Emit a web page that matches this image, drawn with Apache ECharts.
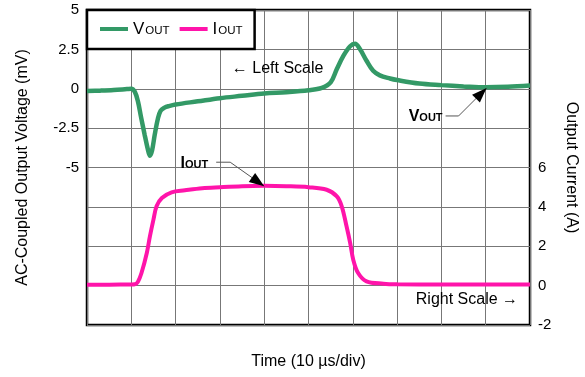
<!DOCTYPE html>
<html>
<head>
<meta charset="utf-8">
<script src="https://cdn.jsdelivr.net/npm/echarts@6/dist/echarts.min.js"></script>
<style>html,body{margin:0;padding:0;background:#fff;}#c{width:585px;height:377px;}</style>
</head>
<body>
<div id="c"></div>
<script>
// Time in µs (10 µs per division)
var vTime = [0, 3, 6, 9, 10, 10.8, 11.5, 12.2, 13, 13.7, 14.2, 14.7, 15.3, 16, 16.6, 17.5, 18.5, 20, 25, 30, 35, 40, 45, 50, 53, 55, 56.4, 57.9, 59.4, 60.5, 61.6, 63.1, 64.6, 66.1, 68.4, 70, 75, 80, 85, 90, 95, 100];
var vOut  = [-0.15, -0.12, -0.08, -0.02, 0.0, -0.2, -0.8, -1.8, -2.9, -3.8, -4.25, -3.9, -2.9, -1.9, -1.4, -1.2, -1.1, -1.0, -0.8, -0.6, -0.45, -0.3, -0.22, -0.1, 0.05, 0.4, 1.25, 2.1, 2.7, 2.85, 2.52, 1.78, 1.14, 0.85, 0.65, 0.55, 0.33, 0.23, 0.15, 0.09, 0.12, 0.2];
var iTime = [0, 5, 10, 10.8, 11.5, 12.3, 13.5, 14.2, 15, 15.7, 16.9, 19.1, 22.1, 26, 30, 35, 40, 45, 50, 54.1, 56.4, 57.5, 58.6, 59.4, 60.1, 61.2, 63.1, 66.9, 70, 80, 90, 100];
var iOut  = [0.05, 0.05, 0.06, 0.07, 0.2, 0.64, 1.66, 2.5, 3.35, 4.03, 4.45, 4.74, 4.84, 4.95, 5.0, 5.05, 5.07, 5.05, 5.0, 4.87, 4.53, 4.03, 3.0, 2.17, 1.32, 0.64, 0.22, 0.1, 0.07, 0.06, 0.06, 0.06];

var xTicks = {min: 0, max: 100, interval: 10};
var leftTicks = {min: -15, max: 5, interval: 2.5, labelMin: -5};
var rightTicks = {min: -2, max: 14, interval: 2, labelMax: 6};

var FONT = "'Liberation Sans', Arial, sans-serif";
var GREEN = '#339966';
var PINK = '#ff14aa';

function zip(a, b) { return a.map(function (x, i) { return [x, b[i]]; }); }

var chart = echarts.init(document.getElementById('c'));
chart.setOption({
  animation: false,
  backgroundColor: '#fff',
  textStyle: {fontFamily: FONT},
  grid: {left: 87, right: 55, top: 10, bottom: 52, outerBoundsMode: 'none', containLabel: false,
    show: true, borderColor: '#000', borderWidth: 2.5, backgroundColor: 'transparent'},
  legend: {
    left: 87, top: 10, orient: 'horizontal',
    backgroundColor: '#fff', borderColor: '#000', borderWidth: 2.5,
    padding: [11, 12, 11, 13], itemGap: 10, itemWidth: 28, itemHeight: 4,
    icon: 'rect',
    data: ['VOUT', 'IOUT'],
    formatter: function (n) { return n === 'VOUT' ? '{b|V}{s|OUT}' : '{b|I}{s|OUT}'; },
    textStyle: {
      color: '#000', fontFamily: FONT,
      rich: {
        b: {fontSize: 17, fontFamily: FONT, color: '#000', verticalAlign: 'bottom', lineHeight: 18},
        s: {fontSize: 11.5, fontFamily: FONT, color: '#000', verticalAlign: 'bottom', lineHeight: 18, padding: [0, 0, 1, 1]}
      }
    }
  },
  xAxis: {
    type: 'value', min: xTicks.min, max: xTicks.max, interval: xTicks.interval,
    name: 'Time (10 µs/div)', nameLocation: 'middle', nameGap: 29,
    nameTextStyle: {fontSize: 16, color: '#000', fontFamily: FONT},
    axisLine: {show: false}, axisTick: {show: false}, axisLabel: {show: false},
    splitLine: {show: true, lineStyle: {color: '#777', width: 1}}
  },
  yAxis: [{
    type: 'value', position: 'left', min: leftTicks.min, max: leftTicks.max, interval: leftTicks.interval,
    name: 'AC-Coupled Output Voltage (mV)', nameLocation: 'middle', nameGap: 56,
    nameTextStyle: {fontSize: 16, color: '#000', fontFamily: FONT},
    axisLine: {show: false}, axisTick: {show: false},
    axisLabel: {fontSize: 15, color: '#000', margin: 8, fontFamily: FONT,
      formatter: function (v) { return v >= leftTicks.labelMin ? String(v) : ''; }},
    splitLine: {show: true, lineStyle: {color: '#777', width: 1}}
  }, {
    type: 'value', position: 'right', min: rightTicks.min, max: rightTicks.max, interval: rightTicks.interval,
    name: 'Output Current (A)', nameLocation: 'middle', nameGap: 33, nameRotate: -90,
    nameTextStyle: {fontSize: 16, color: '#000', fontFamily: FONT},
    axisLine: {show: false}, axisTick: {show: false},
    axisLabel: {fontSize: 15, color: '#000', margin: 8, fontFamily: FONT,
      formatter: function (v) { return v <= rightTicks.labelMax ? String(v) : ''; }},
    splitLine: {show: false}
  }],
  series: [{
    name: 'VOUT', type: 'line', yAxisIndex: 0, data: zip(vTime, vOut),
    showSymbol: false, smooth: 0.35,
    lineStyle: {color: GREEN, width: 4.5}, itemStyle: {color: GREEN}, z: 3
  }, {
    name: 'IOUT', type: 'line', yAxisIndex: 1, data: zip(iTime, iOut),
    showSymbol: false, smooth: 0.35,
    lineStyle: {color: PINK, width: 4}, itemStyle: {color: PINK}, z: 3
  }]
});

function px(axis, x, y) {
  return chart.convertToPixel(axis === 0 ? {xAxisIndex: 0, yAxisIndex: 0} : {xAxisIndex: 0, yAxisIndex: 1}, [x, y]);
}
function arrowHead(tip, from, len, half) {
  var dx = tip[0] - from[0], dy = tip[1] - from[1];
  var L = Math.sqrt(dx * dx + dy * dy); dx /= L; dy /= L;
  var bx = tip[0] - dx * len, by = tip[1] - dy * len;
  return [tip, [bx - dy * half, by + dx * half], [bx + dy * half, by - dx * half]];
}
var boldRich = {
  b: {fontSize: 16, fontWeight: 'bold', fontFamily: FONT, fill: '#000', verticalAlign: 'bottom', lineHeight: 18},
  s: {fontSize: 11, fontWeight: 'bold', fontFamily: FONT, fill: '#000', verticalAlign: 'bottom', lineHeight: 18, padding: [0, 0, 1, 0]}
};
var vTip = px(0, 90.2, 0.05);
var iTip = px(1, 40, 5.05);
var vElbow = [vTip[0] - 28, vTip[1] + 28];
var iElbow = [iTip[0] - 34, iTip[1] - 24];
var ls = px(0, 32.7, 1.28);
var rs = px(1, 97.3, -0.71);
chart.setOption({
  graphic: [
    {type: 'polyline', shape: {points: [[vElbow[0] - 13, vElbow[1]], vElbow, vTip]}, style: {stroke: '#555', lineWidth: 1, fill: null}, z: 10},
    {type: 'polygon', shape: {points: arrowHead(vTip, vElbow, 15, 5.5)}, style: {fill: '#000'}, z: 11},
    {type: 'text', x: vElbow[0] - 16, y: vElbow[1], style: {text: '{b|V}{s|OUT}', rich: boldRich, align: 'right', verticalAlign: 'middle'}, z: 10},
    {type: 'polyline', shape: {points: [[iElbow[0] - 14, iElbow[1]], iElbow, iTip]}, style: {stroke: '#555', lineWidth: 1, fill: null}, z: 10},
    {type: 'polygon', shape: {points: arrowHead(iTip, iElbow, 15, 5.5)}, style: {fill: '#000'}, z: 11},
    {type: 'text', x: iElbow[0] - 22, y: iElbow[1], style: {text: '{b|I}{s|OUT}', rich: boldRich, align: 'right', verticalAlign: 'middle'}, z: 10},
    {type: 'text', x: ls[0], y: ls[1], style: {text: '← Left Scale', font: '16px ' + FONT, fill: '#000', align: 'left', verticalAlign: 'middle'}, z: 10},
    {type: 'text', x: rs[0], y: rs[1], style: {text: 'Right Scale →', font: '16px ' + FONT, fill: '#000', align: 'right', verticalAlign: 'middle'}, z: 10}
  ]
});
</script>
</body>
</html>
